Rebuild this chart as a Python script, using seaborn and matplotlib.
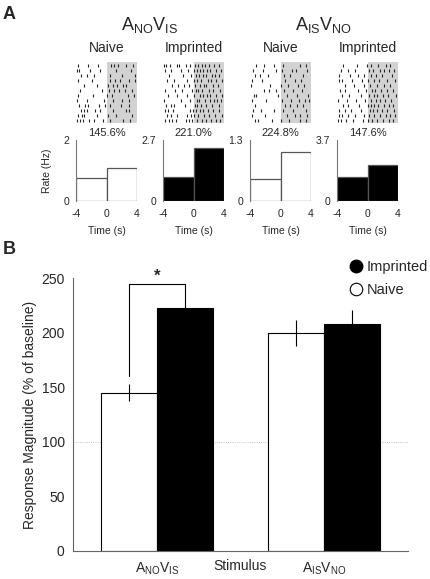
import numpy as np
import pandas as pd
import matplotlib
matplotlib.use('Agg')
import matplotlib.pyplot as plt
from matplotlib.lines import Line2D
import seaborn as sns

# --------------------------
# data
# --------------------------
# spike times (s) per trial
naive_no_is = [
    [-3.8, -2.4, -1.1, 0.6, 1.0, 1.5, 2.6, 3.5],
    [-3.9, -3.6, -2.1, -0.9, 1.3, 3.2],
    [-3.4, -2.5, -1.6, 0.4, 2.0, 3.7],
    [-3.8, -1.9, 0.5, 1.1, 1.8, 2.9, 3.8],
    [-2.9, -1.2, 0.2, 0.9, 1.4, 2.1, 2.6],
    [-3.5, -0.6, 0.3, 1.0, 1.7, 2.4, 3.3],
    [-3.7, -1.8, 0.1, 0.7, 2.8, 3.6],
    [-3.9, -2.6, -0.3, 0.9, 2.0, 3.0],
    [-3.6, -2.8, -2.4, -1.0, -0.2, 0.4, 1.9, 2.9],
    [-3.3, -3.0, -2.6, -1.5, -0.8, 0.8, 2.5, 3.0],
    [-3.8, -3.2, -2.9, -1.3, 0.2, 1.3, 3.4],
    [-3.9, -3.5, -3.1, -2.3, -1.6, -0.4, 0.5, 2.2, 3.1],
]
imprinted_no_is = [
    [-3.9, -3.6, -3.1, -2.2, -1.9, -1.0, -0.5, 0.2, 0.6, 1.1, 1.5, 2.0, 2.7, 3.3],
    [-3.8, -2.9, -1.7, -0.7, 0.1, 0.4, 0.9, 1.3, 1.8, 2.2, 2.9, 3.6],
    [-3.2, -1.4, -0.3, 0.3, 0.7, 1.2, 1.6, 2.4, 2.8, 3.4],
    [-3.5, -2.5, -0.9, 0.0, 0.5, 1.0, 1.9, 2.3, 3.0, 3.7],
    [-2.8, -2.0, -1.2, -0.6, 0.2, 0.8, 1.4, 1.7, 2.6, 3.2],
    [-3.7, -2.4, -1.5, -0.2, 0.3, 0.6, 1.1, 2.0, 2.5, 3.5],
    [-3.3, -2.1, -0.8, 0.1, 0.9, 1.3, 1.8, 2.2, 2.9, 3.8],
    [-3.9, -1.6, -0.4, 0.4, 0.7, 1.5, 2.1, 2.7, 3.1, 3.6],
    [-3.6, -3.0, -2.6, -1.1, 0.2, 0.5, 1.0, 1.6, 2.4, 3.3],
    [-3.8, -3.4, -2.7, -0.5, -0.1, 0.3, 0.8, 1.2, 1.9, 2.6, 3.4],
    [-3.5, -2.9, -2.2, -0.9, -0.3, 0.1, 0.6, 1.4, 2.0, 2.8, 3.7],
    [-3.7, -3.2, -2.8, -2.3, -1.0, -0.6, -0.2, 0.4, 1.1, 1.7, 2.3, 3.0, 3.5],
]
naive_is_no = [
    [-3.2, -2.1, -0.8, 0.3, 2.6, 3.3],
    [-3.6, -2.3, -0.6, 0.2, 1.5, 2.0, 3.5],
    [-3.4, -2.7, -1.7, 0.4, 1.2, 3.0],
    [-3.8, -2.4, 0.6, 1.9, 2.7],
    [-3.9, -1.4, 0.1, 1.0, 2.3, 3.1],
    [-2.2, -1.5, -0.6, 0.5, 1.6, 2.8],
    [-3.5, -3.2, -0.3, 0.9, 2.1, 3.6],
    [-3.7, -1.9, 0.2, 1.4, 2.4, 3.2, 3.7],
    [-3.3, 0.6, 1.3, 2.2, 2.9],
    [-3.6, -2.5, -0.9, 0.3, 1.7, 3.4],
    [-3.8, -2.0, 0.8, 1.9, 2.6, 3.5],
    [-3.4, -3.0, -1.1, 0.1, 1.1, 2.5, 3.3],
]
imprinted_is_no = [
    [-3.2, -1.4, -0.1, 0.5, 1.4, 2.4, 3.0],
    [-3.5, -2.6, -1.6, 0.2, 0.7, 1.6, 2.1, 2.8, 3.5],
    [-3.7, -2.3, -1.2, -0.4, 0.4, 1.1, 1.9, 3.2],
    [-3.8, -3.3, -2.0, -0.7, 0.1, 0.9, 1.5, 2.6, 3.6],
    [-3.0, -1.8, -0.5, 0.3, 1.2, 2.2, 2.9],
    [-3.6, -2.9, -1.3, -0.2, 0.6, 1.0, 1.8, 2.5, 3.3],
    [-3.4, -2.4, -0.9, 0.2, 0.8, 1.3, 2.0, 2.7, 3.7],
    [-3.9, -2.7, -1.5, -0.3, 0.4, 1.1, 1.7, 2.3, 3.1],
    [-3.2, -2.5, -1.1, 0.1, 0.5, 0.9, 1.4, 2.1, 2.8, 3.4],
    [-3.7, -3.0, -2.2, -0.8, 0.3, 0.7, 1.2, 1.9, 2.6, 3.5],
    [-3.8, -3.3, -2.6, -1.6, -0.4, 0.2, 0.9, 1.6, 2.4, 3.0, 3.6],
    [-3.9, -3.5, -2.8, -1.9, -0.6, 0.1, 0.6, 1.3, 2.0, 2.8, 3.4],
]

# mean rates (Hz) before / after stimulus onset
rates = [[0.74, 1.07], [1.05, 2.33], [0.46, 1.05], [1.46, 2.18]]
rate_max = [2, 2.7, 1.3, 3.7]
rate_max_labels = ['2', '2.7', '1.3', '3.7']
pct_labels = ['145.6%', '221.0%', '224.8%', '147.6%']
col_titles = ['Naive', 'Imprinted', 'Naive', 'Imprinted']

stimuli = [r'$\mathregular{A_{NO}V_{IS}}$', r'$\mathregular{A_{IS}V_{NO}}$']
naive_mean = [145, 200]
naive_sem = [7.6, 12]
imprinted_mean = [223, 208]
imprinted_sem = [14, 13]

# --------------------------
# style
# --------------------------
sns.set_style('white')
plt.rcParams['font.family'] = ['Liberation Sans', 'DejaVu Sans']
plt.rcParams['mathtext.fontset'] = 'custom'
plt.rcParams['mathtext.rm'] = 'Liberation Sans'

W, H = 430, 579
fig = plt.figure(figsize=(4.3, 5.79), dpi=100)


def box(x0, y0, x1, y1):
    # pixel box (top-left origin) -> figure fraction rect
    return [x0 / W, 1 - y1 / H, (x1 - x0) / W, (y1 - y0) / H]


fig.text(3 / W, 1 - 6 / H, 'A', fontsize=13, fontweight='bold', va='top')
fig.text(3 / W, 1 - 241 / H, 'B', fontsize=13, fontweight='bold', va='top')
fig.text(150 / W, 1 - 25 / H, stimuli[0], fontsize=13, ha='center', va='center')
fig.text(324 / W, 1 - 25 / H, stimuli[1], fontsize=13, ha='center', va='center')

# --------------------------
# A: rasters + rate histograms
# --------------------------
rasters = [naive_no_is, imprinted_no_is, naive_is_no, imprinted_is_no]
lefts = [76, 163, 250, 337]
fills = ['white', 'black', 'white', 'black']

for i in range(4):
    x0 = lefts[i]
    ax = fig.add_axes(box(x0, 62, x0 + 61, 123))
    ax.axvspan(0, 4, color='#d2d2d2', lw=0, zorder=0)
    ax.eventplot(rasters[i], lineoffsets=np.arange(len(rasters[i])), linelengths=0.6,
                 colors='#222222', linewidths=0.8)
    ax.set_xlim(-4, 4)
    ax.set_ylim(len(rasters[i]) - 0.4, -0.6)
    ax.axis('off')
    fig.text((x0 + 30.5) / W, 1 - 48 / H, col_titles[i], fontsize=10,
             ha='center', va='center')

    ax = fig.add_axes(box(x0, 140, x0 + 61, 201))
    sns.histplot(x=[-2, 2], weights=rates[i], bins=[-4, 0, 4], ax=ax,
                 color=fills[i], edgecolor='#555555', linewidth=0.9, alpha=1)
    ax.set_xlim(-4, 4)
    ax.set_ylim(0, rate_max[i])
    ax.set_xticks([-4, 0, 4])
    ax.set_xticklabels(['-4', '0', '4'], fontsize=7.5)
    ax.set_yticks([0, rate_max[i]])
    ax.set_yticklabels(['0', rate_max_labels[i]], fontsize=7.5)
    ax.tick_params(axis='x', length=0, pad=6)
    ax.tick_params(axis='y', length=0, pad=5)
    for s in ['top', 'right', 'bottom']:
        ax.spines[s].set_visible(False)
    ax.spines['left'].set_color('#777777')
    ax.spines['left'].set_linewidth(0.8)
    ax.set_xlabel('Time (s)', fontsize=7.5, labelpad=5)
    ax.set_ylabel('Rate (Hz)' if i == 0 else '', fontsize=7.5, labelpad=8)
    ax.text(0.5, 1.04, pct_labels[i], transform=ax.transAxes, ha='center',
            va='bottom', fontsize=8)

# --------------------------
# B: response magnitude
# --------------------------
df = pd.DataFrame({
    'stimulus': stimuli * 2,
    'group': ['Naive'] * 2 + ['Imprinted'] * 2,
    'value': naive_mean + imprinted_mean,
    'sem': naive_sem + imprinted_sem,
})

ax = fig.add_axes(box(73, 278.3, 408, 550.7))
ax.axhline(100, color='#b0b0b0', lw=0.6, ls=':', zorder=0)
sns.barplot(data=df, x='stimulus', y='value', hue='group',
            hue_order=['Naive', 'Imprinted'],
            palette={'Naive': 'white', 'Imprinted': 'black'},
            edgecolor='black', linewidth=0.8, width=0.667,
            errorbar=None, legend=False, ax=ax)

# error bars at bar centres
centers = {}
for k, grp in enumerate(['Naive', 'Imprinted']):
    sub = df[df['group'] == grp]
    for j in range(2):
        x = j + (k - 0.5) * 0.3335
        centers[(grp, j)] = x
        ax.errorbar(x, sub['value'].iloc[j], yerr=sub['sem'].iloc[j],
                    color='black', lw=0.8, capsize=0, zorder=3)

# significance bracket
xa, xb = centers[('Naive', 0)], centers[('Imprinted', 0)]
ax.plot([xa, xa, xb, xb], [160, 245, 245, 237], color='black', lw=0.8,
        clip_on=False)
ax.text((xa + xb) / 2, 245, '*', ha='center', va='bottom', fontsize=12,
        fontweight='bold')

ax.set_xlim(-0.5, 1.5)
ax.set_ylim(0, 250)
ax.set_yticks([0, 50, 100, 150, 200, 250])
ax.tick_params(axis='y', direction='in', length=3, labelsize=10, pad=6)
ax.tick_params(axis='x', length=0, labelsize=10, pad=7)
ax.set_xticks([0, 1])
ax.set_xticklabels(stimuli)
ax.set_ylabel('Response Magnitude (% of baseline)', fontsize=10, va='center')
ax.yaxis.set_label_coords(-0.128, 0.5)
ax.set_xlabel('Stimulus', fontsize=10, va='center')
ax.xaxis.set_label_coords(0.5, -0.058)
for s in ['top', 'right']:
    ax.spines[s].set_visible(False)
ax.spines['left'].set_color('#666666')
ax.spines['bottom'].set_color('#666666')
ax.spines['left'].set_linewidth(0.8)
ax.spines['bottom'].set_linewidth(0.8)

handles = [
    Line2D([], [], marker='o', ls='', markerfacecolor='black',
           markeredgecolor='black', markersize=9),
    Line2D([], [], marker='o', ls='', markerfacecolor='white',
           markeredgecolor='black', markersize=9, markeredgewidth=0.8),
]
fig.legend(handles, ['Imprinted', 'Naive'], loc='upper left',
           bbox_to_anchor=(347 / W, 1 - 260 / H), frameon=False, fontsize=10.5,
           handletextpad=0.15, labelspacing=0.6, handlelength=1.2,
           borderaxespad=0, borderpad=0)

fig.savefig('out.png', dpi=100)
